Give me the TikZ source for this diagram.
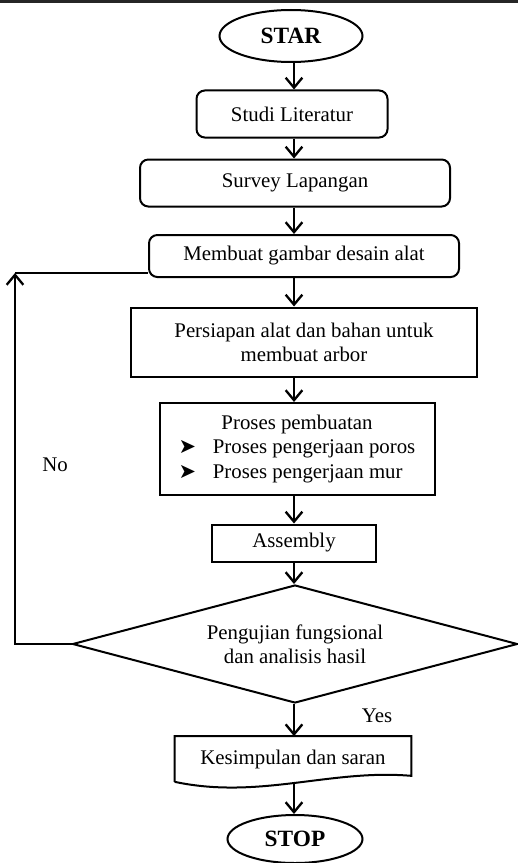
\documentclass[tikz,border=0pt]{standalone}
\usepackage{fontspec}
\setmainfont{Liberation Serif}
\newfontfamily\dingfont{DejaVu Sans}
\usetikzlibrary{positioning,shapes.geometric,arrows.meta}

\tikzset{
  roundbox/.style={draw, line width=1.2pt, rounded corners=5pt, inner sep=0pt},
  plainbox/.style={draw, line width=1.2pt, inner sep=0pt},
  terminal/.style={draw, ellipse, line width=1.2pt, inner sep=0pt, font=\fontsize{14}{16}\selectfont\bfseries},
  decision/.style={draw, diamond, line width=1.2pt, inner sep=0pt, shape aspect=3.77, align=center},
  flow/.style={->, line width=1.2pt},
}

\begin{document}
\begin{tikzpicture}[x=0.6pt, y=-0.6pt, >={Straight Barb[length=6pt,width=10pt,line width=1.4pt]}, font=\fontsize{12.5}{14.5}\selectfont]
    \useasboundingbox (0,0) rectangle (518,863);
    \draw[line width=1.8pt, black!85] (0,1.5) -- (518,1.5);

    \node[terminal, minimum width=85.8pt, minimum height=31.2pt] (star) at (291,36) {STAR};
    \node[roundbox, minimum width=114.6pt, minimum height=28.2pt] (studi) at (292,114) {Studi Literatur};
    \node[roundbox, minimum width=186pt, minimum height=28.2pt] (survey) at (295,183) {Survey Lapangan};
    \node[roundbox, minimum width=186pt, minimum height=25.2pt] (gambar) at (304,256) {Membuat gambar desain alat};
    \node[plainbox, minimum width=207.6pt, minimum height=41.4pt, align=center] (persiapan) at (304,342) {Persiapan alat dan bahan untuk\\membuat arbor};
    \node[plainbox, minimum width=165pt, minimum height=55.2pt] (proses) at (297,449) {%
      \begin{tabular}{@{}l@{\hspace{10pt}}l@{}}
        \multicolumn{2}{c}{Proses pembuatan}\\
        {\dingfont ➤} & Proses pengerjaan poros\\
        {\dingfont ➤} & Proses pengerjaan mur
      \end{tabular}};
    \node[plainbox, minimum width=98.4pt, minimum height=22.2pt] (assembly) at (294,543) {Assembly};
    \node[decision, minimum width=267pt, minimum height=70.8pt] (uji) at (295,644) {Pengujian fungsional\\dan analisis hasil};
    \node[minimum width=141.6pt, minimum height=27pt, inner sep=0pt] (kesimpulan) at (293,759) {\raisebox{2.4pt}{Kesimpulan dan saran}};
    \node[terminal, minimum width=81pt, minimum height=28.8pt] (stop) at (295,839) {STOP};

    \node (yes) at (377,716) {Yes};
    \node (no) at (55,465) {No};

    % document shape round the conclusion
    \draw[line width=1.2pt] (kesimpulan.south west) |- (kesimpulan.north east) -- ([yshift=3.6pt]kesimpulan.south east)
        .. controls +(-48.6pt,4.2pt) and +(51pt,-10.8pt) .. (kesimpulan.south west);

    \coordinate (axis) at (294,0);
    \coordinate (loop) at (15,273);

    \draw[flow] (star.south -| axis) -- (studi.north -| axis);
    \draw[flow] (studi.south -| axis) -- (survey.north -| axis);
    \draw[flow] (survey.south -| axis) -- (gambar.north -| axis);
    \draw[flow] (gambar.south -| axis) -- (persiapan.north -| axis);
    \draw[flow] (persiapan.south -| axis) -- (proses.north -| axis);
    \draw[flow] (proses.south -| axis) -- (assembly.north -| axis);
    \draw[flow] (assembly.south -| axis) -- (uji.north -| axis);
    \draw[flow] (uji.south -| axis) -- (kesimpulan.north -| axis);
    \draw[flow] ([yshift=-1.5pt]kesimpulan.south -| axis) -- (stop.north -| axis);

    % back to the design step
    \draw[flow] (uji.west) -| (loop);
    \draw[line width=1.2pt] (loop) -- (loop -| gambar.west);
\end{tikzpicture}
\end{document}
